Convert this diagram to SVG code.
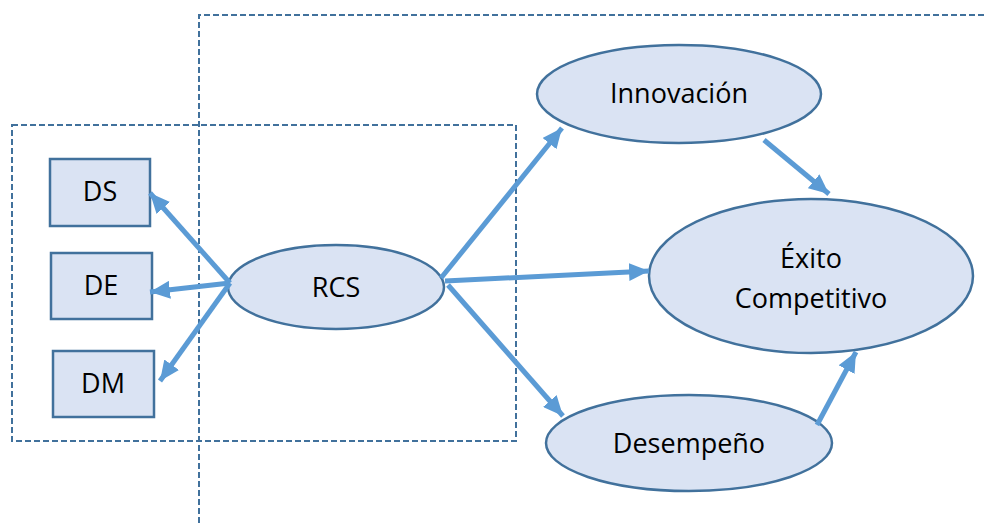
<svg xmlns="http://www.w3.org/2000/svg" width="986" height="523" viewBox="0 0 986 523">
<defs>
<style>
.box{fill:#DAE3F3;stroke:#41719C;stroke-width:2.5}
.dash{fill:none;stroke:#41719C;stroke-width:2;stroke-dasharray:6 3}
.arr{fill:none;stroke:#5B9BD5;stroke-width:5;marker-end:url(#ah)}
text{font-family:"Open Sans","Noto Sans",sans-serif;font-size:27px;fill:#000;text-anchor:middle;dominant-baseline:central}
</style>
<marker id="ah" markerUnits="userSpaceOnUse" markerWidth="22" markerHeight="18" refX="20" refY="9" orient="auto">
<path d="M0,0 L20,9 L0,18 Z" fill="#5B9BD5"/>
</marker>
</defs>
<rect x="0" y="0" width="986" height="523" fill="#fff"/>
<g id="frames">
<path class="dash" d="M199,523 V15 H986"/>
<rect class="dash" x="12" y="125" width="504" height="316"/>
</g>
<g id="DS"><rect class="box" x="50" y="159" width="100" height="67"/><text x="100" y="190">DS</text></g>
<g id="DE"><rect class="box" x="51" y="253" width="101" height="66"/><text x="101" y="284">DE</text></g>
<g id="DM"><rect class="box" x="53" y="351" width="101" height="66"/><text x="103" y="382">DM</text></g>
<g id="RCS"><ellipse class="box" cx="336" cy="287" rx="108" ry="42"/><text x="336" y="286">RCS</text></g>
<g id="Innovacion"><ellipse class="box" cx="679" cy="94" rx="142" ry="49"/><text x="679" y="92">Innovación</text></g>
<g id="Exito"><ellipse class="box" cx="811" cy="276" rx="162" ry="77"/><text x="811" y="257">Éxito</text><text x="811" y="297">Competitivo</text></g>
<g id="Desempeno"><ellipse class="box" cx="689" cy="443" rx="143" ry="48"/><text x="689" y="442">Desempeño</text></g>
<g id="connectors">
<line class="arr" x1="230" y1="283" x2="150" y2="193"/>
<line class="arr" x1="230" y1="283" x2="150" y2="292"/>
<line class="arr" x1="230" y1="283" x2="160" y2="381"/>
<line class="arr" x1="441" y1="278" x2="562" y2="128"/>
<line class="arr" x1="445" y1="281" x2="649" y2="271"/>
<line class="arr" x1="448" y1="285" x2="563" y2="416"/>
<line class="arr" x1="764" y1="140" x2="829" y2="194"/>
<line class="arr" x1="817" y1="425" x2="856" y2="352"/>
</g>
</svg>
